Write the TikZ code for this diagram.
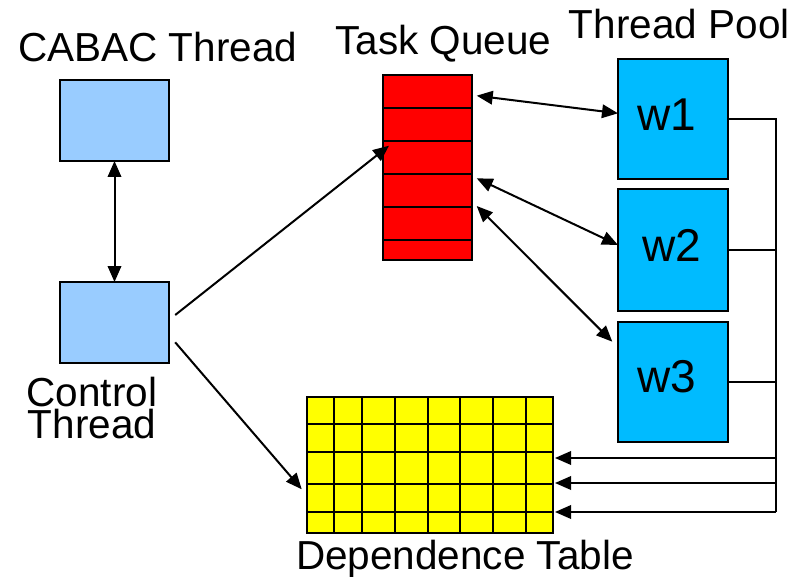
\documentclass[tikz,border=0pt]{standalone}
\usepackage{fontspec}
\setmainfont{Liberation Sans}
\usetikzlibrary{arrows.meta,calc}
\definecolor{ctrlblue}{HTML}{99CCFF}
\definecolor{poolblue}{HTML}{00BBFF}
\definecolor{queuered}{HTML}{FF0000}
\definecolor{tableyellow}{HTML}{FFFF00}
\begin{document}
\begin{tikzpicture}[x=1pt,y=-1pt,
  box/.style={draw=black,line width=2pt,inner sep=0pt,outer sep=0pt},
  cell/.style={line width=1.8pt},
  lbl/.style={font=\fontsize{40.5}{31.7}\selectfont,anchor=base,inner sep=0pt,align=center},
  wlbl/.style={font=\fontsize{46}{46}\selectfont,anchor=base,inner sep=0pt},
  link/.style={line width=2pt,-{Triangle[length=16pt,width=13.5pt]}},
  dlink/.style={line width=2pt,{Triangle[length=16pt,width=13.5pt]}-{Triangle[length=16pt,width=13.5pt]}},
  bus/.style={line width=1.9pt}]
\useasboundingbox (0,0) rectangle (802,577);

% threads on the left
\node[box,fill=ctrlblue,minimum width=109pt,minimum height=81pt] (cabac) at (114.5,120.5) {};
\node[box,fill=ctrlblue,minimum width=109pt,minimum height=81pt] (ctrl) at (114.5,322.5) {};
\node[lbl] (cabaclbl) at (157.8,61.7) {CABAC Thread};
\node[lbl] (ctrllbl) at (92,438.3) {Control\\Thread};

% task queue with its slots
\node[box,fill=queuered,minimum width=88.4pt,minimum height=185pt] (queue) at (427.5,167.5) {};
\foreach \yy in {108.3,141,174,206.7,240}
  \draw[cell] (queue.west |- 0,\yy) -- (queue.east |- 0,\yy);
\node[lbl] (queuelbl) at (443.5,54.3) {Task Queue};

% worker pool
\node[box,fill=poolblue,minimum width=110pt,minimum height=120pt] (w1) at (673,119) {};
\node[box,fill=poolblue,minimum width=110pt,minimum height=121pt] (w2) at (673,250) {};
\node[box,fill=poolblue,minimum width=110pt,minimum height=120pt] (w3) at (673,382) {};
\node[wlbl] (w1lbl) at ($(w1.center)+(-6,12)$) {w1};
\node[wlbl] (w2lbl) at ($(w2.center)+(-1,11.7)$) {w2};
\node[wlbl] (w3lbl) at ($(w3.center)+(-6,10.7)$) {w3};
\node[lbl] (poollbl) at (679.3,38.3) {Thread Pool};

% dependence table grid
\node[box,fill=tableyellow,minimum width=246.3pt,minimum height=136.3pt] (table) at (429.85,464.85) {};
\foreach \xx in {334,361.7,395,427.7,460,492.7,525.7}
  \draw[cell] (table.north -| \xx,0) -- (table.south -| \xx,0);
\foreach \yy in {424.3,451.7,484.3,511.7}
  \draw[cell] (table.west |- 0,\yy) -- (table.east |- 0,\yy);
\node[lbl] (tablelbl) at (465,569.3) {Dependence Table};

% connectors
\draw[dlink] (cabac.south) -- (ctrl.north);
\coordinate (ctrlA) at ($(ctrl.east)+(6.2,-7.5)$);
\coordinate (ctrlB) at ($(ctrl.east)+(6.2,19.8)$);
\coordinate (qin) at ($(queue.west)+(5.7,-21.8)$);
\coordinate (tin) at ($(table.west)+(-5,24.4)$);
\draw[link] (ctrlA) -- (qin);
\draw[link] (ctrlB) -- (tin);

\coordinate (q1) at ($(queue.east)+(5,-71.8)$);
\coordinate (q2) at ($(queue.east)+(5,10.8)$);
\coordinate (q3) at ($(queue.east)+(5,38.5)$);
\draw[dlink] (q1) -- ($(w1.west)+(0,-5.7)$);
\draw[dlink] (q2) -- ($(w2.west)+(0,-5)$);
\draw[dlink] (q3) -- ($(w3.west)+(-5.7,-40.3)$);

% status lines from the workers into the table
\coordinate (busTop) at (776,119);
\coordinate (busBot) at (776,512);
\draw[bus] (w1.east) -- (busTop) -- (busBot);
\draw[bus] (w2.east) -- (w2.east -| busTop);
\draw[bus] (w3.east) -- (w3.east -| busTop);
\foreach \yy in {458,483,512}
  \draw[bus,-{Triangle[length=16pt,width=13.5pt]}] (busTop |- 0,\yy) -- ($(table.east |- 0,\yy)+(2,0)$);
\end{tikzpicture}
\end{document}
